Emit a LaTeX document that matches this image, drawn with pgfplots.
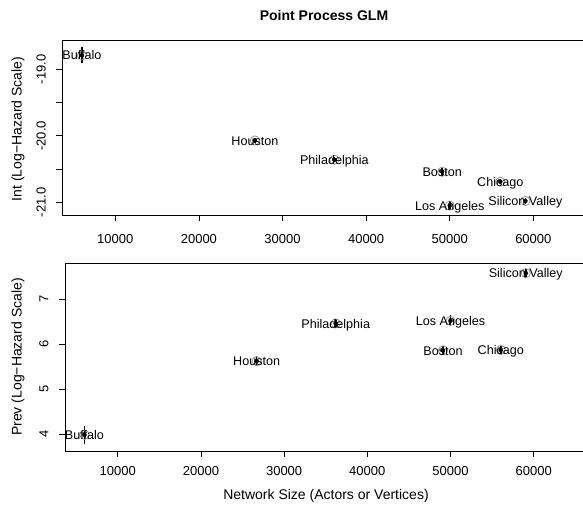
\documentclass[border=0pt]{standalone}
\usepackage{pgfplots}
\pgfplotsset{compat=1.18}
\usepackage{pgfplotstable}
\usepackage{fontspec}
\setmainfont{Liberation Sans}
\definecolor{ptgray}{RGB}{140,140,140}

\pgfplotstableread[col sep=comma]{
x,y,ep,em,label
6000,-18.79,0.13,0.12,Buffalo
26700,-20.07,0.04,0.04,Houston
36200,-20.36,0.04,0.04,Philadelphia
49100,-20.54,0.06,0.06,Boston
50000,-21.05,0.07,0.07,Los Angeles
56050,-20.69,0.04,0.04,Chicago
59050,-20.98,0.04,0.04,Silicon Valley
}\inttable

\pgfplotstableread[col sep=comma]{
x,y,ep,em,label
6000,3.98,0.20,0.21,Buffalo
26700,5.62,0.11,0.11,Houston
36200,6.46,0.11,0.11,Philadelphia
50000,6.52,0.12,0.12,Los Angeles
49100,5.86,0.10,0.10,Boston
56050,5.87,0.08,0.08,Chicago
59050,7.58,0.10,0.10,Silicon Valley
}\prevtable

\pgfplotsset{
  rstyle/.style={
    scale only axis,
    xmin=3660, xmax=66300,
    axis line style={line width=0.8pt},
    tick style={line width=0.8pt, black},
    tick align=outside,
    major tick length=6pt,
    minor tick length=6pt,
    tick pos=left,
    xtick={10000,20000,30000,40000,50000,60000},
    scaled ticks=false,
    /pgf/number format/assume math mode=true,
    xticklabel style={/pgf/number format/set thousands separator={}, font=\fontsize{13}{15}\selectfont},
    yticklabel style={rotate=90, anchor=south, font=\fontsize{13}{15}\selectfont},
    every y tick label/.append style={yshift=7pt},
    every node near coord/.append style={anchor=base, yshift=-4.6pt, inner sep=0pt, font=\fontsize{12.6}{14}\selectfont, text=black},
  },
  circ/.style={only marks, mark=o, mark size=4.6pt, mark options={draw=ptgray, line width=0.7pt}},
  ebar/.style={only marks, mark=none, error bars/.cd, y dir=both, y explicit, error mark=none,
    error bar style={line width=1.6pt, black}},
  labs/.style={only marks, mark=none, nodes near coords, point meta=explicit symbolic},
}

\begin{document}
\begin{tikzpicture}
\path[use as bounding box] (0pt,0pt) rectangle (583pt,504pt);

\begin{axis}[rstyle, at={(62.3pt,289pt)}, anchor=south west, width=523.7pt, height=174.3pt,
  ymin=-21.191, ymax=-18.57,
  every x tick label/.append style={yshift=-10pt},
  ytick={-21,-20,-19}, minor ytick={-20.5,-19.5},
  yticklabel style={/pgf/number format/.cd, fixed, fixed zerofill, precision=1}]
\addplot[circ] table[x=x,y=y] {\inttable};
\addplot[ebar] table[x=x,y=y,y error plus=ep,y error minus=em] {\inttable};
\addplot[labs] table[x=x,y=y,meta=label] {\inttable};
\end{axis}

\begin{axis}[rstyle, at={(65pt,53pt)}, anchor=south west, width=521.1pt, height=187.7pt,
  ymin=3.62, ymax=7.80,
  every x tick label/.append style={yshift=-6pt},
  ytick={4,5,6,7}]
\addplot[circ] table[x=x,y=y] {\prevtable};
\addplot[ebar] table[x=x,y=y,y error plus=ep,y error minus=em] {\prevtable};
\addplot[labs] table[x=x,y=y,meta=label] {\prevtable};
\end{axis}

\node[font=\bfseries\fontsize{14}{16}\selectfont] at (324pt,489pt) {Point Process GLM};
\node[rotate=90, font=\fontsize{14}{16}\selectfont] at (18pt,375pt) {Int (Log−Hazard Scale)};
\node[rotate=90, font=\fontsize{14}{16}\selectfont] at (18pt,147pt) {Prev (Log−Hazard Scale)};
\node[font=\fontsize{14}{16}\selectfont] at (326pt,8pt) {Network Size (Actors or Vertices)};
\end{tikzpicture}
\end{document}
